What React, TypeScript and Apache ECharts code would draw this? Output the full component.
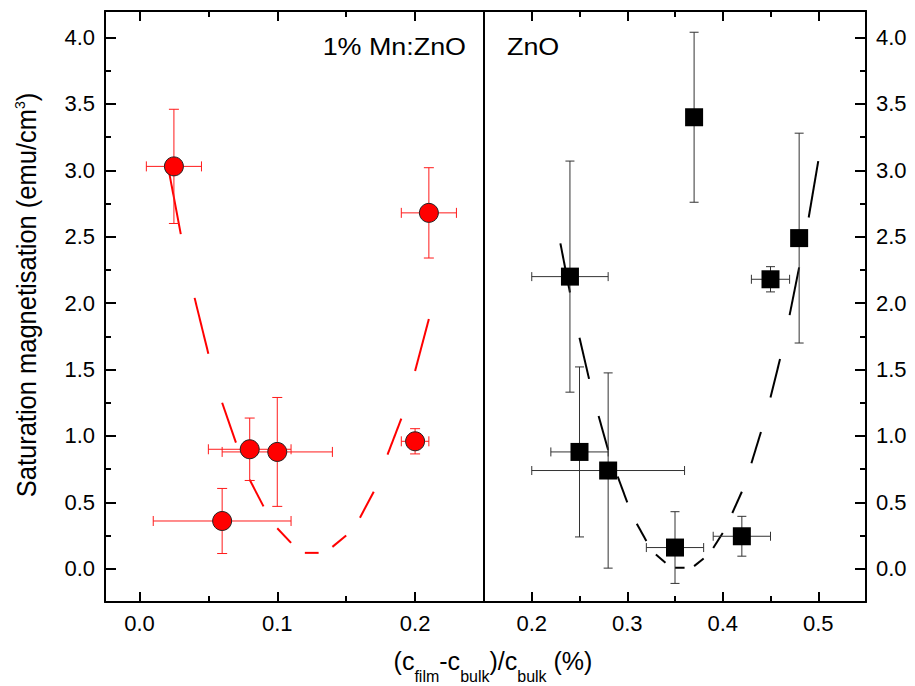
import React, { useEffect, useRef } from "react";
import * as echarts from "echarts";

const FONT = "'Liberation Sans', Arial, Helvetica, sans-serif";

// 1% Mn:ZnO films: x, y and symmetric error bars
const mnX = [0.025, 0.06, 0.08, 0.1, 0.2, 0.21];
const mnY = [3.03, 0.36, 0.9, 0.88, 0.96, 2.68];
const mnXErr = [0.02, 0.05, 0.03, 0.04, 0.01, 0.02];
const mnYErr = [0.43, 0.245, 0.235, 0.41, 0.095, 0.34];

// undoped ZnO films
const znX = [0.24, 0.25, 0.28, 0.35, 0.37, 0.42, 0.45, 0.48];
const znY = [2.2, 0.88, 0.74, 0.16, 3.4, 0.245, 2.18, 2.49];
const znXErr = [0.04, 0.03, 0.08, 0.03, 0, 0.03, 0.02, 0];
const znYErr = [0.87, 0.64, 0.735, 0.27, 0.64, 0.15, 0.095, 0.79];

// guide curves, sampled every 0.01 (drawn as alternating dashes)
const mnFitX = [0.02, 0.03, 0.04, 0.05, 0.06, 0.07, 0.08, 0.09, 0.1, 0.11, 0.12, 0.13, 0.14, 0.15, 0.16, 0.17, 0.18, 0.19, 0.2, 0.21];
const mnFitY = [3.07, 2.52, 2.04, 1.62, 1.25, 0.95, 0.67, 0.47, 0.305, 0.195, 0.12, 0.12, 0.165, 0.25, 0.385, 0.58, 0.86, 1.13, 1.49, 1.88];
const znFitX = [0.23, 0.24, 0.25, 0.26, 0.27, 0.28, 0.29, 0.3, 0.31, 0.32, 0.33, 0.34, 0.35, 0.36, 0.37, 0.38, 0.39, 0.4, 0.41, 0.42, 0.43, 0.44, 0.45, 0.46, 0.47, 0.48, 0.49, 0.5];
const znFitY = [2.45, 2.08, 1.74, 1.43, 1.15, 0.895, 0.695, 0.5, 0.34, 0.21, 0.107, 0.045, 0.008, 0.007, 0.02, 0.077, 0.157, 0.27, 0.42, 0.58, 0.795, 1.03, 1.29, 1.58, 1.91, 2.27, 2.645, 3.07];

// axis ranges and ticks
const yMin = -0.25;
const yMax = 4.2;
const yMajor = [0, 0.5, 1, 1.5, 2, 2.5, 3, 3.5, 4];
const yMinor = [0.25, 0.75, 1.25, 1.75, 2.25, 2.75, 3.25, 3.75];
const mnXMin = -0.025;
const mnXMax = 0.25;
const mnXMajor = [0, 0.1, 0.2];
const mnXMinor = [0.05, 0.15];
const znXMin = 0.15;
const znXMax = 0.55;
const znXMajor = [0.2, 0.3, 0.4, 0.5];
const znXMinor = [0.25, 0.35, 0.45];

const LINE = { color: "#000", width: 2 };
const labelStyle = {
  color: "#000",
  fontSize: 22,
  fontFamily: FONT,
  formatter: (v: number) => v.toFixed(1),
};

function valueAxis(
  gridIndex: number,
  position: string,
  min: number,
  max: number,
  ticks: number[] | null,
  tickLen: number,
  showLine: boolean,
  showLabels: boolean
) {
  return {
    type: "value",
    gridIndex,
    position,
    min,
    max,
    axisLine: { show: showLine, onZero: false, lineStyle: LINE },
    axisTick: ticks
      ? { show: true, inside: true, length: tickLen, customValues: ticks, lineStyle: LINE }
      : { show: false },
    axisLabel: showLabels
      ? { show: true, customValues: ticks, margin: 10, ...labelStyle }
      : { show: false },
    splitLine: { show: false },
    minorTick: { show: false },
  };
}

function errorBars(color: string, cap: number) {
  return (_params: any, api: any) => {
    const x = api.value(0);
    const y = api.value(1);
    const xe = api.value(2);
    const ye = api.value(3);
    const c = api.coord([x, y]);
    const style = { stroke: color, lineWidth: 1 };
    const children: any[] = [];
    const seg = (x1: number, y1: number, x2: number, y2: number) =>
      children.push({ type: "line", shape: { x1, y1, x2, y2 }, style });
    if (ye > 0) {
      const t = api.coord([x, y + ye])[1];
      const b = api.coord([x, y - ye])[1];
      seg(c[0], t, c[0], b);
      seg(c[0] - cap, t, c[0] + cap, t);
      seg(c[0] - cap, b, c[0] + cap, b);
    }
    if (xe > 0) {
      const l = api.coord([x - xe, y])[0];
      const r = api.coord([x + xe, y])[0];
      seg(l, c[1], r, c[1]);
      seg(l, c[1] - cap, l, c[1] + cap);
      seg(r, c[1] - cap, r, c[1] + cap);
    }
    return { type: "group", children };
  };
}

function dashRenderer(color: string) {
  return (_params: any, api: any) => {
    const p1 = api.coord([api.value(0), api.value(1)]);
    const p2 = api.coord([api.value(2), api.value(3)]);
    return {
      type: "line",
      shape: { x1: p1[0], y1: p1[1], x2: p2[0], y2: p2[1] },
      style: { stroke: color, lineWidth: 2, lineCap: "butt" },
    };
  };
}

function dashPairs(xs: number[], ys: number[]) {
  const out: number[][] = [];
  for (let i = 0; i + 1 < xs.length; i += 2) {
    out.push([xs[i], ys[i], xs[i + 1], ys[i + 1]]);
  }
  return out;
}

export default function App() {
  const ref = useRef<HTMLDivElement>(null);

  useEffect(() => {
    if (!ref.current) return;
    const chart = echarts.init(ref.current, undefined, { renderer: "svg" });

    const mnPoints = mnX.map((x, i) => [x, mnY[i]]);
    const mnErr = mnX.map((x, i) => [x, mnY[i], mnXErr[i], mnYErr[i]]);
    const znPoints = znX.map((x, i) => [x, znY[i]]);
    const znErr = znX.map((x, i) => [x, znY[i], znXErr[i], znYErr[i]]);

    chart.setOption({
      animation: false,
      backgroundColor: "#fff",
      grid: [
        { left: 105, top: 11, width: 379, height: 591, outerBoundsMode: "none" },
        { left: 484, top: 11, width: 382, height: 591, outerBoundsMode: "none" },
      ],
      xAxis: [
        valueAxis(0, "bottom", mnXMin, mnXMax, mnXMajor, 10, true, true),
        valueAxis(0, "bottom", mnXMin, mnXMax, mnXMinor, 6, false, false),
        valueAxis(0, "top", mnXMin, mnXMax, mnXMajor, 10, true, false),
        valueAxis(0, "top", mnXMin, mnXMax, mnXMinor, 6, false, false),
        valueAxis(1, "bottom", znXMin, znXMax, znXMajor, 10, true, true),
        valueAxis(1, "bottom", znXMin, znXMax, znXMinor, 6, false, false),
        valueAxis(1, "top", znXMin, znXMax, znXMajor, 10, true, false),
        valueAxis(1, "top", znXMin, znXMax, znXMinor, 6, false, false),
      ],
      yAxis: [
        valueAxis(0, "left", yMin, yMax, yMajor, 11, true, true),
        valueAxis(0, "left", yMin, yMax, yMinor, 6, false, false),
        valueAxis(0, "right", yMin, yMax, null, 0, true, false),
        valueAxis(1, "right", yMin, yMax, yMajor, 11, true, true),
        valueAxis(1, "right", yMin, yMax, yMinor, 6, false, false),
      ],
      series: [
        {
          type: "custom",
          xAxisIndex: 0,
          yAxisIndex: 0,
          z: 2,
          renderItem: dashRenderer("#ff0000"),
          encode: { x: [0, 2], y: [1, 3] },
          data: dashPairs(mnFitX, mnFitY),
        },
        {
          type: "custom",
          xAxisIndex: 0,
          yAxisIndex: 0,
          z: 3,
          renderItem: errorBars("#ff1a1a", 5),
          encode: { x: 0, y: 1 },
          data: mnErr,
        },
        {
          type: "scatter",
          xAxisIndex: 0,
          yAxisIndex: 0,
          z: 4,
          symbol: "circle",
          symbolSize: 19,
          itemStyle: { color: "#ff0000", borderColor: "#222", borderWidth: 1, opacity: 1 },
          data: mnPoints,
        },
        {
          type: "custom",
          xAxisIndex: 4,
          yAxisIndex: 3,
          z: 2,
          renderItem: dashRenderer("#000"),
          encode: { x: [0, 2], y: [1, 3] },
          data: dashPairs(znFitX, znFitY),
        },
        {
          type: "custom",
          xAxisIndex: 4,
          yAxisIndex: 3,
          z: 3,
          renderItem: errorBars("#333", 4.5),
          encode: { x: 0, y: 1 },
          data: znErr,
        },
        {
          type: "scatter",
          xAxisIndex: 4,
          yAxisIndex: 3,
          z: 4,
          symbol: "rect",
          symbolSize: 18,
          itemStyle: { color: "#000", opacity: 1 },
          data: znPoints,
        },
      ],
      graphic: [
        {
          type: "text",
          x: 27,
          y: 295,
          rotation: Math.PI / 2,
          scaleY: 1.1,
          style: {
            text: "Saturation magnetisation (emu/cm{sup|3})",
            fill: "#000",
            fontSize: 25.5,
            fontFamily: FONT,
            lineHeight: 28,
            align: "center",
            verticalAlign: "middle",
            rich: {
              sup: { fill: "#000", fontSize: 14, fontFamily: FONT, lineHeight: 14, verticalAlign: "top" },
            },
          },
        },
        {
          type: "text",
          x: 493,
          y: 661,
          style: {
            text: "(c{sub|film}-c{sub|bulk})/c{sub|bulk} (%)",
            fill: "#000",
            fontSize: 25,
            fontFamily: FONT,
            lineHeight: 25,
            align: "center",
            verticalAlign: "middle",
            rich: {
              sub: {
                fill: "#000",
                fontSize: 16,
                fontFamily: FONT,
                lineHeight: 16,
                verticalAlign: "top",
                padding: [20, 0, 0, 0],
              },
            },
          },
        },
        {
          type: "text",
          x: 466,
          y: 47,
          scaleX: 1.12,
          style: {
            text: "1% Mn:ZnO",
            fill: "#000",
            fontSize: 24,
            fontFamily: FONT,
            align: "right",
            verticalAlign: "middle",
          },
        },
        {
          type: "text",
          x: 507,
          y: 47,
          scaleX: 1.12,
          style: {
            text: "ZnO",
            fill: "#000",
            fontSize: 24,
            fontFamily: FONT,
            align: "left",
            verticalAlign: "middle",
          },
        },
      ],
    });

    return () => chart.dispose();
  }, []);

  return (
    <div
      ref={ref}
      style={{ position: "absolute", left: 0, top: 0, width: 915, height: 686, background: "#fff" }}
    />
  );
}
